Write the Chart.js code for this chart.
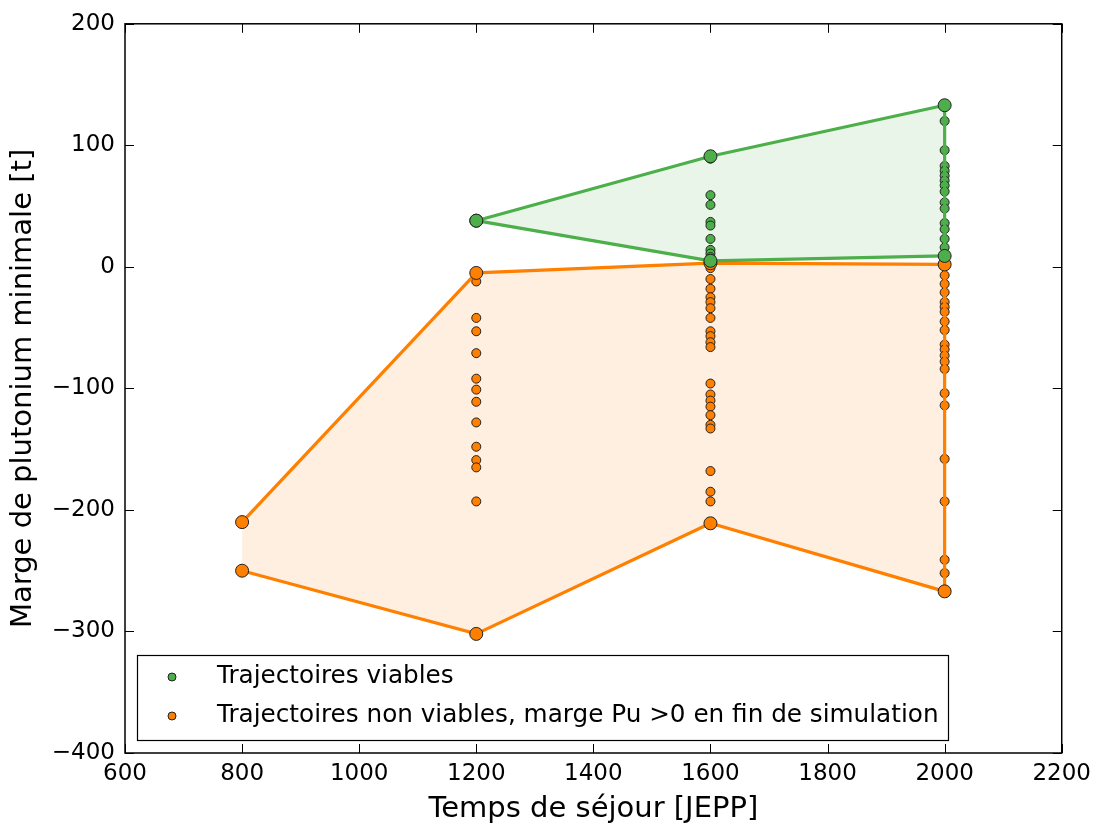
<!DOCTYPE html>
<html><head><meta charset="utf-8">
<script src="https://cdn.jsdelivr.net/npm/chart.js@4"></script>
<style>html,body{margin:0;padding:0;background:#fff}</style>
</head><body>
<canvas id="c" width="1098" height="829"></canvas>
<script>
// ---- data ----
const xTickValues = [600, 800, 1000, 1200, 1400, 1600, 1800, 2000, 2200];
const yTickValues = [-400, -300, -200, -100, 0, 100, 200];

const viable1200 = [38];
const viable1600 = [91, 89, 59, 51, 37, 34, 23, 14, 11, 8, 5];
const viable2000 = [133, 120, 96, 83, 79, 75, 71, 67, 62, 53, 48, 36, 31, 23, 16, 10];

const nonViable800 = [-210, -250];
const nonViable1200 = [-5, -12, -42, -53, -71, -92, -101, -111, -128, -148, -159, -165, -193, -302];
const nonViable1600 = [3, -1, -10, -18, -25, -29, -34, -42, -53, -57, -62, -66, -96, -105, -110, -115, -122, -130, -133, -168, -185, -193, -211];
const nonViable2000 = [2, -7, -14, -21, -29, -33, -37, -45, -52, -64, -68, -73, -78, -84, -104, -114, -158, -193, -241, -252, -267];

const hullX = [1200, 1600, 2000];
const viableUpper = [38, 91, 133];
const viableLower = [38, 5, 9];
const hullX2 = [800, 1200, 1600, 2000];
const nonViableUpper = [-210, -5, 3, 2];
const nonViableLower = [-250, -302, -211, -267];

const labels = ['Trajectoires viables', 'Trajectoires non viables, marge Pu >0 en fin de simulation'];
// ---- build ----
const GREEN = '#4daf4a', ORANGE = '#ff7f00';
const col = (x, arr) => arr.map(y => ({x, y}));
const pts = (xs, ys) => xs.map((x, i) => ({x, y: ys[i]}));
const viablePts = [...col(1200, viable1200), ...col(1600, viable1600), ...col(2000, viable2000)];
const nonViablePts = [...col(800, nonViable800), ...col(1200, nonViable1200), ...col(1600, nonViable1600), ...col(2000, nonViable2000)];

const lineDs = (data, color, extra) => Object.assign({
  type: 'line', data, borderColor: color, borderWidth: 3.2, showLine: true,
  pointRadius: 6.5, pointBackgroundColor: color, pointBorderColor: '#222', pointBorderWidth: 1,
  fill: false, tension: 0
}, extra || {});

const datasets = [
  lineDs(pts(hullX, viableUpper), GREEN),                                   // 0
  lineDs(pts(hullX, viableLower), GREEN, {fill: {target: 0}, backgroundColor: 'rgba(77,175,74,0.12)'}), // 1
  lineDs([{x: 2000, y: viableLower[2]}, {x: 2000, y: viableUpper[2]}], GREEN, {pointRadius: 0}), // 2
  lineDs(pts(hullX2, nonViableUpper), ORANGE),                              // 3
  lineDs(pts(hullX2, nonViableLower), ORANGE, {fill: {target: 3}, backgroundColor: 'rgba(255,127,0,0.12)'}), // 4
  lineDs([{x: 2000, y: nonViableUpper[3]}, {x: 2000, y: nonViableLower[3]}], ORANGE, {pointRadius: 0}), // 5
  {type: 'scatter', label: labels[0], data: viablePts, pointRadius: 4.5, backgroundColor: GREEN, borderColor: '#222', borderWidth: 1},
  {type: 'scatter', label: labels[1], data: nonViablePts, pointRadius: 4.5, backgroundColor: ORANGE, borderColor: '#222', borderWidth: 1}
];

const FONT = 'DejaVu Sans';
const fmt = v => String(v).replace('-', '\u2212');

const framePlugin = {
  id: 'frame',
  afterDraw(chart) {
    const {ctx, chartArea: a, scales: {x, y}} = chart;
    ctx.save();
    ctx.strokeStyle = '#000';
    ctx.lineWidth = 1;
    const T = 9;
    ctx.beginPath();
    xTickValues.forEach(v => {
      const px = Math.round(x.getPixelForValue(v)) + 0.5;
      ctx.moveTo(px, a.bottom); ctx.lineTo(px, a.bottom - T);
      ctx.moveTo(px, a.top); ctx.lineTo(px, a.top + T);
    });
    yTickValues.forEach(v => {
      const py = Math.round(y.getPixelForValue(v)) + 0.5;
      ctx.moveTo(a.left, py); ctx.lineTo(a.left + T, py);
      ctx.moveTo(a.right, py); ctx.lineTo(a.right - T, py);
    });
    ctx.stroke();
    ctx.lineWidth = 1.5;
    ctx.strokeRect(a.left, a.top, a.right - a.left, a.bottom - a.top);

    // legend box
    const bx = a.left + 12, by = 655, bw = 811, bh = 85;
    ctx.fillStyle = '#fff';
    ctx.fillRect(bx, by, bw, bh);
    ctx.lineWidth = 1.2;
    ctx.strokeRect(bx + 0.5, by + 0.5, bw, bh);
    const rows = [[GREEN, labels[0], by + 22], [ORANGE, labels[1], by + 61]];
    ctx.font = '24.7px "' + FONT + '"';
    ctx.textBaseline = 'middle';
    rows.forEach(([c, t, yy]) => {
      ctx.beginPath();
      ctx.arc(bx + 35, yy, 4, 0, Math.PI * 2);
      ctx.fillStyle = c; ctx.fill();
      ctx.strokeStyle = '#222'; ctx.lineWidth = 1; ctx.stroke();
      ctx.fillStyle = '#000';
      ctx.fillText(t, bx + 80, yy);
    });
    ctx.restore();
  }
};

new Chart(document.getElementById('c'), {
  type: 'scatter',
  data: {datasets},
  options: {
    responsive: false,
    animation: false,
    layout: {padding: {top: 22, right: 35, left: 0, bottom: 0}},
    plugins: {legend: {display: false}, tooltip: {enabled: false}, filler: {drawTime: 'beforeDatasetsDraw'}},
    scales: {
      x: {
        type: 'linear', min: 600, max: 2200,
        afterBuildTicks: s => { s.ticks = xTickValues.map(v => ({value: v})); },
        afterFit: s => { s.height = 76; },
        grid: {display: false, drawTicks: false}, border: {display: false},
        ticks: {padding: 7, color: '#000', font: {family: FONT, size: 23}, callback: v => fmt(v), maxRotation: 0},
        title: {display: true, text: 'Temps de séjour [JEPP]', color: '#000', font: {family: FONT, size: 29}, padding: {top: 0, bottom: 2}}
      },
      y: {
        type: 'linear', min: -400, max: 200,
        afterBuildTicks: s => { s.ticks = yTickValues.map(v => ({value: v})); },
        afterFit: s => { s.width = 125; },
        grid: {display: false, drawTicks: false}, border: {display: false},
        ticks: {padding: 10, color: '#000', font: {family: FONT, size: 23}, callback: v => fmt(v)},
        title: {display: true, text: 'Marge de plutonium minimale [t]', color: '#000', font: {family: FONT, size: 29}, padding: {top: 6, bottom: 0}}
      }
    }
  },
  plugins: [framePlugin]
});
</script>
</body></html>
